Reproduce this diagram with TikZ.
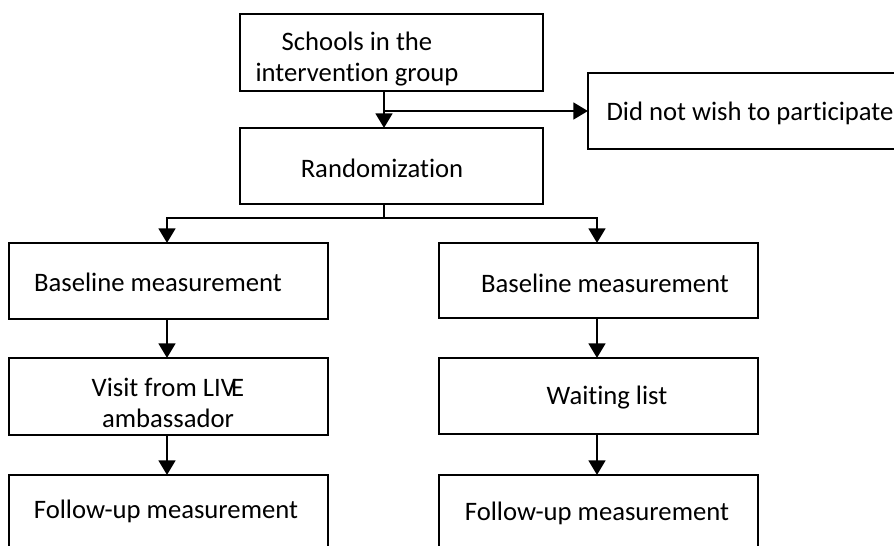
\documentclass[tikz,border=0pt]{standalone}
\usepackage{fontspec}
\setmainfont{Carlito}[Ligatures=NoCommon]
\usetikzlibrary{arrows.meta}
\begin{document}
\begin{tikzpicture}[x=0.75pt,y=-0.75pt,
  box/.style={draw, line width=1.8pt, inner sep=0pt, outer sep=0pt},
  lbl/.style={font=\fontsize{20}{23.5}\selectfont, align=center, inner sep=0pt},
  arr/.style={line width=2.1pt, -{Triangle[length=11pt,width=12.5pt]}}]
\useasboundingbox (0,0) rectangle (894,546);
% boxes
\node[box, minimum width=227.25pt, minimum height=57.75pt] (s)  at (391.5,52.5) {};
\node[box, minimum width=234pt,    minimum height=57pt]    (did) at (744,111) {};
\node[box, minimum width=227.25pt, minimum height=57pt]    (r)  at (391.5,166) {};
\node[box, minimum width=239.25pt, minimum height=57pt]    (bl) at (168.5,281) {};
\node[box, minimum width=239.25pt, minimum height=56.25pt] (br) at (598.5,280.5) {};
\node[box, minimum width=239.25pt, minimum height=57.75pt] (v)  at (168.5,396.5) {};
\node[box, minimum width=239.25pt, minimum height=57pt]    (w)  at (598.5,396) {};
\node[box, minimum width=239.25pt, minimum height=63.75pt] (fl) at (168.5,517.5) {};
\node[box, minimum width=239.25pt, minimum height=63.75pt] (fr) at (598.5,517.5) {};
% labels
\node[lbl] (ts)  at (357,59) {Schools in the\\intervention group};
\node[lbl] (tdid) at (750,113) {Did not wish to participate};
\node[lbl] (tr)  at (382,168) {Randomization};
\node[lbl] (tbl) at (158,282) {Baseline measurement};
\node[lbl] (tbr) at (605,283) {Baseline measurement};
\node[lbl] (tv)  at (168,403) {Visit from LIV\kern-3.5pt E\\ambassador};
\node[lbl] (tw)  at (607,398) {Waiting list};
\node[lbl] (tfl) at (166,511) {Follow-up measurement};
\node[lbl] (tfr) at (597,513) {Follow-up measurement};
% connectors
\coordinate (j1) at ([xshift=-5.625pt]s.south |- did.west);
\draw[arr] ([xshift=-5.625pt]s.south) -- ([xshift=-5.625pt]r.north);
\draw[arr] (j1) -- (did.west);
\coordinate (j2) at ([xshift=-5.625pt,yshift=-10.5pt]r.south);
\draw[line width=1.8pt] ([xshift=-5.625pt]r.south) -- (j2);
\draw[arr] (j2) -| ([xshift=-1.125pt]bl.north);
\draw[arr] (j2) -| ([xshift=-1.125pt]br.north);
\draw[arr] ([xshift=-1.125pt]bl.south) -- ([xshift=-1.125pt]v.north);
\draw[arr] ([xshift=-1.125pt]v.south) -- ([xshift=-1.125pt]fl.north);
\draw[arr] ([xshift=-1.125pt]br.south) -- ([xshift=-1.125pt]w.north);
\draw[arr] ([xshift=-1.125pt]w.south) -- ([xshift=-1.125pt]fr.north);
\end{tikzpicture}
\end{document}
